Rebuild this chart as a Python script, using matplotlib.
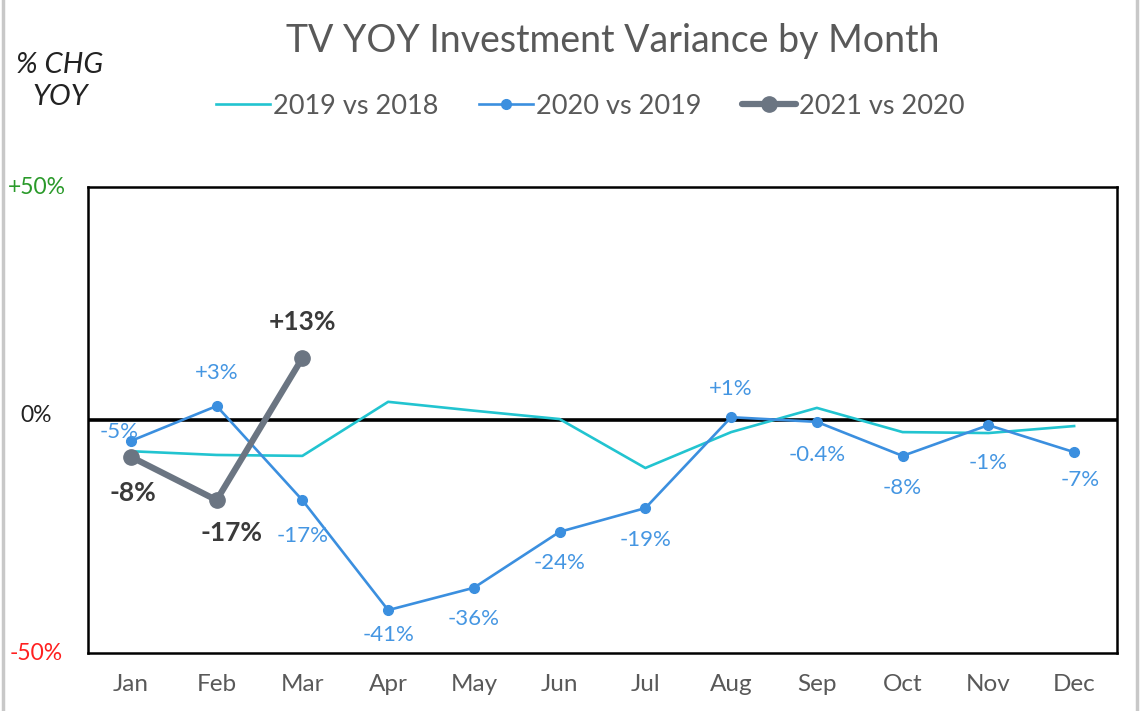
import matplotlib
matplotlib.use("Agg")
import matplotlib.pyplot as plt
from matplotlib.lines import Line2D

plt.rcParams["font.family"] = ["Lato", "DejaVu Sans"]

# data
months = ["Jan", "Feb", "Mar", "Apr", "May", "Jun",
          "Jul", "Aug", "Sep", "Oct", "Nov", "Dec"]
v2019 = [-6.7, -7.5, -7.7, 3.9, 2.0, 0.2, -10.3, -2.6, 2.6, -2.6, -2.8, -1.3]
v2020 = [-4.5, 3.0, -17.2, -40.8, -36.0, -24.0, -18.9, 0.6, -0.4, -7.7, -1.1, -6.9]
v2021 = [-7.9, -17.2, 13.3]
labels2020 = ["-5%", "+3%", "-17%", "-41%", "-36%", "-24%",
              "-19%", "+1%", "-0.4%", "-8%", "-1%", "-7%"]
labels2021 = ["-8%", "-17%", "+13%"]

cyan = "#22c4d0"
blue = "#3b8fdf"
slate = "#6b7582"

fig = plt.figure(figsize=(11.4, 7.11), dpi=100)
ax = fig.add_axes([88 / 1140, 1 - 653 / 711, 1029 / 1140, 466 / 711])

x = range(len(months))
ax.plot(x, v2019, color=cyan, lw=1.9, label="2019 vs 2018", zorder=3)
ax.plot(x, v2020, color=blue, lw=1.9, marker="o", ms=7, label="2020 vs 2019", zorder=4)
ax.plot(range(len(v2021)), v2021, color=slate, lw=4.5, marker="o", ms=11,
        solid_capstyle="round", label="2021 vs 2020", zorder=5)
ax.axhline(0, color="black", lw=2.6, zorder=2)

ax.set_xlim(-0.5, 11.5)
ax.set_ylim(-50, 50)
ax.set_xticks(list(x))
ax.set_xticklabels(months, fontsize=17.5, color="#595959")
ax.tick_params(axis="x", length=0, pad=15)
ax.set_yticks([])
for s in ax.spines.values():
    s.set_linewidth(1.8)
    s.set_color("black")

# y labels
ytr = ax.get_yaxis_transform()
for val, txt, col in [(50, "+50%", "#2a9a2a"), (0, "0%", "#222222"), (-50, "-50%", "#ff2020")]:
    ax.text(-0.05, val + (1 if val == 0 else 0), txt, transform=ytr, ha="center",
            va="center", fontsize=16.5, color=col, clip_on=False)

# data labels 2020
offs2020 = [(-12, 9), (0, 33), (0, -36), (0, -25), (0, -31), (0, -31),
            (0, -32), (0, 28), (0, -33), (0, -32), (0, -38), (6, -28)]
for i, (lab, off) in enumerate(zip(labels2020, offs2020)):
    ax.annotate(lab, (i, v2020[i]), xytext=off, textcoords="offset pixels",
                ha="center", va="center", fontsize=16, color="#4596e2", zorder=6)

offs2021 = [(2, -36), (15, -33), (0, 36)]
for i, (lab, off) in enumerate(zip(labels2021, offs2021)):
    ax.annotate(lab, (i, v2021[i]), xytext=off, textcoords="offset pixels",
                ha="center", va="center", fontsize=19, fontweight="bold",
                color="#3a3a3a", zorder=6)

fig.text(613 / 1140, 1 - 41 / 711, "TV YOY Investment Variance by Month",
         ha="center", va="center", fontsize=27, color="#595959")
fig.text(60 / 1140, 1 - 81 / 711, "% CHG\nYOY", ha="center", va="center",
         fontsize=21, style="italic", color="#222222", linespacing=1.25)

leg = fig.legend(loc="center", bbox_to_anchor=(590 / 1140, 1 - 106 / 711), ncol=3,
                 frameon=False, fontsize=19.5, handlelength=2.0, handletextpad=0.1,
                 columnspacing=1.5, labelcolor="#595959")

# light frame lines at the figure sides
for xf in (3 / 1140, 1137 / 1140):
    fig.add_artist(Line2D([xf, xf], [0, 1], color="#c8c8c8", lw=2.5))

fig.savefig("out.png", dpi=100)
